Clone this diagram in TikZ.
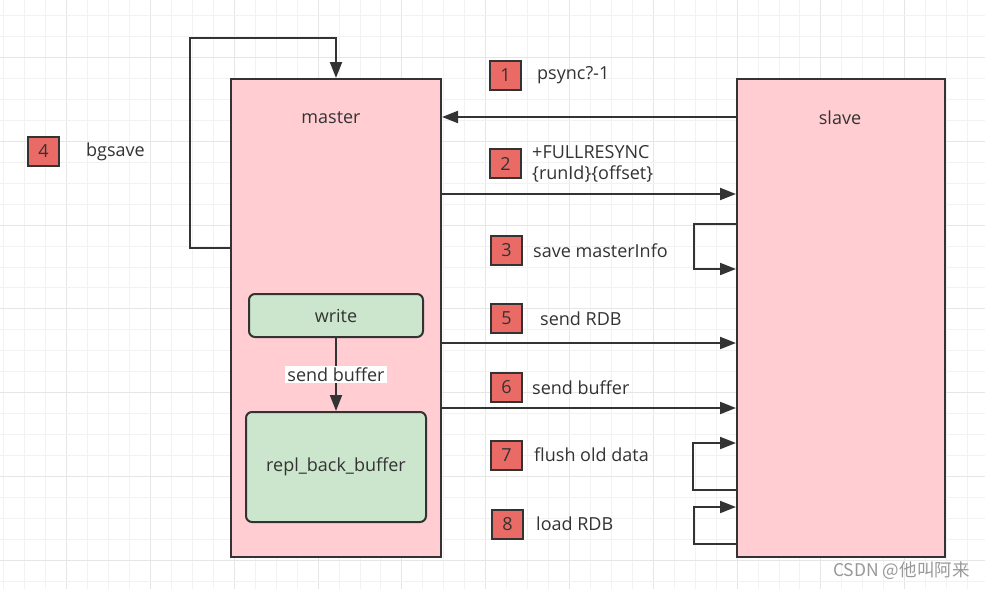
\documentclass[tikz,border=0pt]{standalone}
\usepackage{fontspec}
\setmainfont{Open Sans}
\newfontfamily\cjkfont{Noto Sans CJK SC}
\usetikzlibrary{positioning,arrows.meta}

\definecolor{linegray}{HTML}{333333}
\definecolor{textgray}{HTML}{333333}
\definecolor{pinkfill}{HTML}{FFCDD2}
\definecolor{greenfill}{HTML}{CBE6CC}
\definecolor{badgered}{HTML}{EA6B66}
\definecolor{gridminor}{HTML}{F2F2F2}
\definecolor{gridmajor}{HTML}{E6E6E6}
\definecolor{markgray}{HTML}{999999}

\tikzset{
  box/.style={draw=linegray, line width=2pt, fill=pinkfill, inner sep=0pt},
  greenbox/.style={draw=linegray, line width=2pt, fill=greenfill, rounded corners=6pt, inner sep=0pt},
  badge/.style={draw=linegray, line width=2pt, fill=badgered, minimum width=31pt, minimum height=29pt, inner sep=0pt},
  lbl/.style={inner sep=0pt, align=left},
  arr/.style={draw=linegray, line width=2pt, -{Triangle[length=16pt,width=12pt]}},
}

\begin{document}
\begin{tikzpicture}[x=1pt, y=-1pt, font=\fontsize{18}{21}\selectfont, text=textgray]
  \useasboundingbox (0,0) rectangle (985,589);
  \fill[white] (0,0) rectangle (985,589);
  % grid
  \foreach \i in {0,...,46} {
    \pgfmathsetmacro\gx{3.85+\i*20.95}
    \pgfmathtruncatemacro\m{mod(\i,4)}
    \ifnum\m=3 \def\gc{gridmajor}\else\def\gc{gridminor}\fi
    \draw[\gc, line width=1pt] (\gx,0) -- (\gx,589);
  }
  \foreach \j in {0,...,27} {
    \pgfmathsetmacro\gy{15.6+\j*20.95}
    \pgfmathtruncatemacro\m{mod(\j,4)}
    \ifnum\m=2 \def\gc{gridmajor}\else\def\gc{gridminor}\fi
    \draw[\gc, line width=1pt] (0,\gy) -- (985,\gy);
  }

  %% master / slave
  \node[box, minimum width=210pt, minimum height=478pt] (master) at (336,318) {};
  \node[box, minimum width=208pt, minimum height=478pt] (slave) at (841,318) {};
  \node (mname) at (master.north) [xshift=-5pt, yshift=-40pt] {master};
  \node (sname) at (slave.north) [xshift=-1pt, yshift=-40pt] {slave};

  % buffer inside master
  \node[greenbox, minimum width=174pt, minimum height=43pt] (write) at (336,315.5) {write};
  \node[greenbox, minimum width=180pt, minimum height=110pt] (replbuf) at (336,467) {repl\_back\_buffer};
  \draw[arr] (write) -- node[fill=white, inner sep=2pt] {send buffer} (replbuf);

  %% badges
  \node[badge] (b4) at (43.5,151.5) {4};
  \node[badge] (b1) at (505.5,75) {1};
  \node[badge] (b2) at (505.5,163.5) {2};
  \node[badge] (b3) at (506.5,250.5) {3};
  \node[badge] (b5) at (506.5,318.5) {5};
  \node[badge] (b6) at (506.5,387.5) {6};
  \node[badge] (b7) at (506.5,455) {7};
  \node[badge] (b8) at (507.5,524) {8};

  % step texts
  \node[lbl, right=26pt of b4] (t4) {bgsave};
  \node[lbl, right=15pt of b1] (t1) {psync?-1};
  \node[lbl, right=10pt of b2] (t2) {+FULLRESYNC\\\{runId\}\{offset\}};
  \node[lbl, right=10pt of b3] (t3) {save masterInfo};
  \node[lbl, right=17pt of b5] (t5) {send RDB};
  \node[lbl, right=9pt of b6] (t6) {send buffer};
  \node[lbl, right=11pt of b7] (t7) {flush old data};
  \node[lbl, right=12pt of b8] (t8) {load RDB};

  %% connectors
  \draw[arr] (master.west |- 0,248) -| (190,38) -| (master.north); % bgsave
  \draw[arr] (slave.west |- 0,117) -- (master.east |- 0,117);
  \draw[arr] (master.east |- 0,194) -- (slave.west |- 0,194);
  \draw[arr] (slave.west |- 0,224) -- ++(-42,0) |- (slave.west |- 0,269);
  \draw[arr] (master.east |- 0,343) -- (slave.west |- 0,343);
  \draw[arr] (master.east |- 0,408) -- (slave.west |- 0,408);
  \draw[arr] (slave.west |- 0,490) -- ++(-43,0) |- (slave.west |- 0,443);
  \draw[arr] (slave.west |- 0,544) -- ++(-42,0) |- (slave.west |- 0,507);

  % watermark
  \node[anchor=west, inner sep=0pt, text=markgray, font=\cjkfont\fontsize{17.5}{20}\selectfont] (mark) at (833,571) {CSDN @他叫阿来};
\end{tikzpicture}
\end{document}
